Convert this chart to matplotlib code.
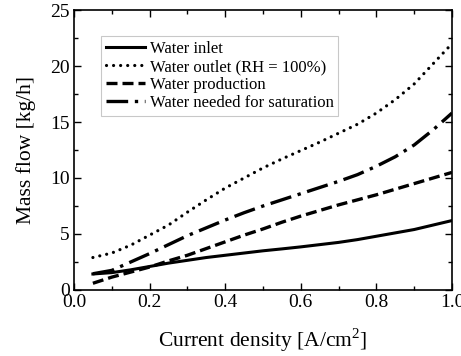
import matplotlib
matplotlib.use("Agg")
import matplotlib.pyplot as plt
from matplotlib.ticker import MultipleLocator

plt.rcParams['font.family'] = ['Liberation Serif', 'DejaVu Serif']
plt.rcParams['mathtext.fontset'] = 'custom'
plt.rcParams['mathtext.rm'] = 'Liberation Serif'

current_density = [0.05, 0.1, 0.15, 0.2, 0.25, 0.3, 0.35, 0.4, 0.45, 0.5,
                   0.55, 0.6, 0.65, 0.7, 0.75, 0.8, 0.85, 0.9, 0.95, 1.0]
water_inlet = [1.43, 1.55, 1.8, 2.1, 2.4, 2.65, 2.9, 3.1, 3.3, 3.5,
               3.67, 3.85, 4.05, 4.25, 4.5, 4.8, 5.1, 5.4, 5.8, 6.2]
water_outlet = [2.9, 3.3, 4.0, 4.9, 5.8, 6.95, 8.05, 9.1, 10.0, 10.9,
                11.7, 12.45, 13.2, 14.0, 14.8, 15.8, 17.0, 18.4, 20.2, 22.0]
water_production = [0.6, 1.15, 1.6, 2.05, 2.6, 3.1, 3.7, 4.3, 4.9, 5.45,
                    6.05, 6.6, 7.1, 7.6, 8.05, 8.5, 9.0, 9.5, 10.0, 10.5]
water_saturation = [1.45, 1.75, 2.5, 3.25, 4.05, 4.85, 5.55, 6.25, 6.9, 7.5,
                    8.05, 8.6, 9.15, 9.7, 10.3, 11.05, 11.9, 12.95, 14.3, 15.8]

fig = plt.figure(figsize=(4.61, 3.56), dpi=100)
ax = fig.add_axes([0.1605, 0.1854, 0.82, 0.7865])

ax.plot(current_density, water_inlet, color='black', lw=2.2, ls='-',
        label='Water inlet')
ax.plot(current_density, water_outlet, color='black', lw=2.3, ls=(0, (0.01, 2.2)),
        dash_capstyle='round', label='Water outlet (RH = 100%)')
ax.plot(current_density, water_production, color='black', lw=2.4, ls=(0, (3.3, 1.5)),
        label='Water production')
ax.plot(current_density, water_saturation, color='black', lw=2.4,
        ls=(0, (6.5, 2.0, 1.0, 2.0)), label='Water needed for saturation')

ax.set_xlim(0.0, 1.0)
ax.set_ylim(0, 25)
ax.xaxis.set_major_locator(MultipleLocator(0.2))
ax.xaxis.set_minor_locator(MultipleLocator(0.1))
ax.yaxis.set_major_locator(MultipleLocator(5))
ax.yaxis.set_minor_locator(MultipleLocator(2.5))
ax.xaxis.set_major_formatter(plt.FuncFormatter(lambda v, p: f"{v:.1f}"))
ax.tick_params(which='both', direction='in', top=True, right=True,
               labelsize=14, width=1.0)
ax.tick_params(which='major', length=5, pad=3)
ax.tick_params(which='minor', length=3)
for s in ax.spines.values():
    s.set_linewidth(1.2)

ax.set_xlabel(r'Current density [A/cm$^2$]', fontsize=15.5, labelpad=11)
ax.set_ylabel('Mass flow [kg/h]', fontsize=15.5, labelpad=10)

leg = ax.legend(loc='upper left', bbox_to_anchor=(0.072, 0.907), fontsize=12,
                frameon=True, fancybox=False, edgecolor='#bbbbbb',
                handlelength=2.3, handletextpad=0.3, borderpad=0.3,
                labelspacing=0.12, borderaxespad=0)
leg.get_frame().set_linewidth(0.8)

fig.savefig('out.png', dpi=100)
